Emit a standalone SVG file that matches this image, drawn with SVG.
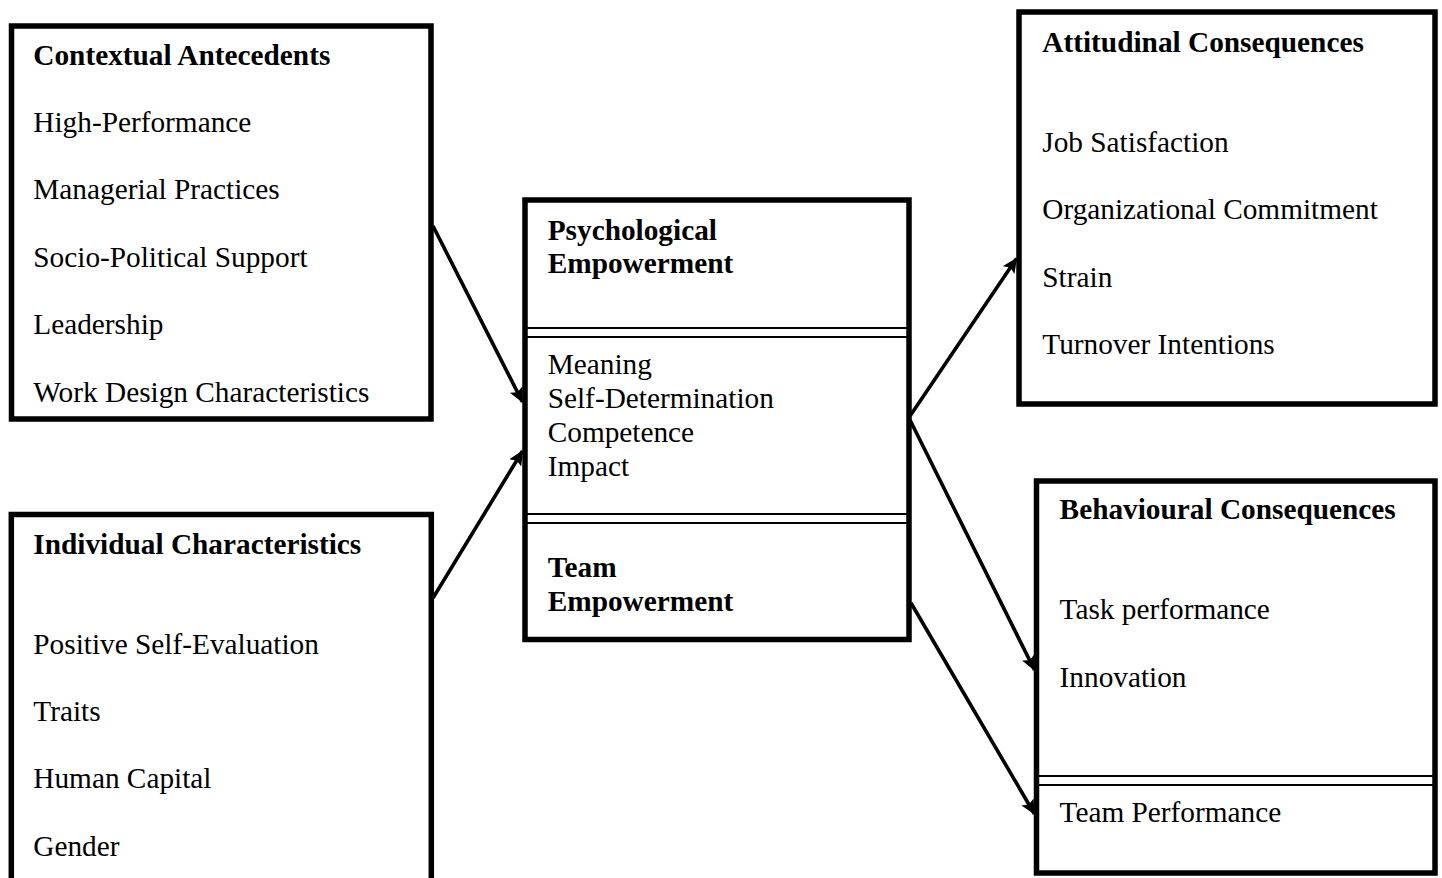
<svg xmlns="http://www.w3.org/2000/svg" width="1442" height="878" viewBox="0 0 1442 878">
  <style>
    .box { fill: #ffffff; stroke: #000000; stroke-width: 5.5; }
    .sep { stroke: #000000; stroke-width: 2.2; fill: none; }
    .t { font-family: "Liberation Serif", "Times New Roman", serif; font-size: 29.3px; fill: #000000; }
    .b { font-weight: bold; }
    .arrow { stroke: #000000; stroke-width: 3.6; fill: none; marker-end: url(#head); }
  </style>
  <defs>
    <marker id="head" markerUnits="userSpaceOnUse" markerWidth="18" markerHeight="16" refX="14" refY="7" orient="auto">
      <path d="M0,0 L15,7 L0,14 L3,7 z" fill="#000000"/>
    </marker>
  </defs>
  <rect width="1442" height="878" fill="#ffffff"/>

  <!-- antecedents: organisational context -->
  <g id="contextual-antecedents">
    <rect class="box" x="11.5" y="26" width="419.5" height="393"/>
    <text class="t b" x="33.3" y="65">Contextual Antecedents</text>
    <text class="t" x="33.3" y="132">High-Performance</text>
    <text class="t" x="33.3" y="199.3">Managerial Practices</text>
    <text class="t" x="33.3" y="266.6">Socio-Political Support</text>
    <text class="t" x="33.3" y="334">Leadership</text>
    <text class="t" x="33.3" y="401.5">Work Design Characteristics</text>
  </g>

  <!-- antecedents: the individual -->
  <g id="individual-characteristics">
    <rect class="box" x="11.3" y="514.5" width="420" height="385"/>
    <text class="t b" x="33.3" y="553.5">Individual Characteristics</text>
    <text class="t" x="33.3" y="654">Positive Self-Evaluation</text>
    <text class="t" x="33.3" y="721">Traits</text>
    <text class="t" x="33.3" y="788.3">Human Capital</text>
    <text class="t" x="33.3" y="855.7">Gender</text>
  </g>

  <!-- central construct with its dimensions -->
  <g id="empowerment">
    <rect class="box" x="525" y="200" width="384" height="439.5"/>
    <line class="sep" x1="527" y1="328" x2="907" y2="328"/>
    <line class="sep" x1="527" y1="337" x2="907" y2="337"/>
    <line class="sep" x1="527" y1="514" x2="907" y2="514"/>
    <line class="sep" x1="527" y1="523" x2="907" y2="523"/>
    <text class="t b" x="547.7" y="240">Psychological</text>
    <text class="t b" x="547.7" y="273">Empowerment</text>
    <text class="t" x="547.7" y="374">Meaning</text>
    <text class="t" x="547.7" y="408">Self-Determination</text>
    <text class="t" x="547.7" y="441.7">Competence</text>
    <text class="t" x="547.7" y="475.5">Impact</text>
    <text class="t b" x="547.7" y="577">Team</text>
    <text class="t b" x="547.7" y="610.7">Empowerment</text>
  </g>

  <!-- outcomes: attitudes -->
  <g id="attitudinal-consequences">
    <rect class="box" x="1019" y="12" width="416" height="392"/>
    <text class="t b" x="1042.3" y="51.7">Attitudinal Consequences</text>
    <text class="t" x="1042.3" y="151.5">Job Satisfaction</text>
    <text class="t" x="1042.3" y="219">Organizational Commitment</text>
    <text class="t" x="1042.3" y="286.5">Strain</text>
    <text class="t" x="1042.3" y="353.5">Turnover Intentions</text>
  </g>

  <!-- outcomes: behaviour -->
  <g id="behavioural-consequences">
    <rect class="box" x="1036.5" y="481" width="398.5" height="392"/>
    <line class="sep" x1="1038.5" y1="776" x2="1433" y2="776"/>
    <line class="sep" x1="1038.5" y1="785" x2="1433" y2="785"/>
    <text class="t b" x="1059.6" y="519">Behavioural Consequences</text>
    <text class="t" x="1059.6" y="619">Task performance</text>
    <text class="t" x="1059.6" y="687">Innovation</text>
    <text class="t" x="1059.6" y="822">Team Performance</text>
  </g>

  <g id="connectors">
    <line class="arrow" x1="433" y1="226" x2="522.5" y2="402"/>
    <line class="arrow" x1="433" y1="598" x2="522.5" y2="451"/>
    <line class="arrow" x1="910" y1="416" x2="1016.5" y2="258.5"/>
    <line class="arrow" x1="910" y1="420" x2="1034.5" y2="670"/>
    <line class="arrow" x1="911" y1="603" x2="1034.5" y2="814"/>
  </g>
</svg>
